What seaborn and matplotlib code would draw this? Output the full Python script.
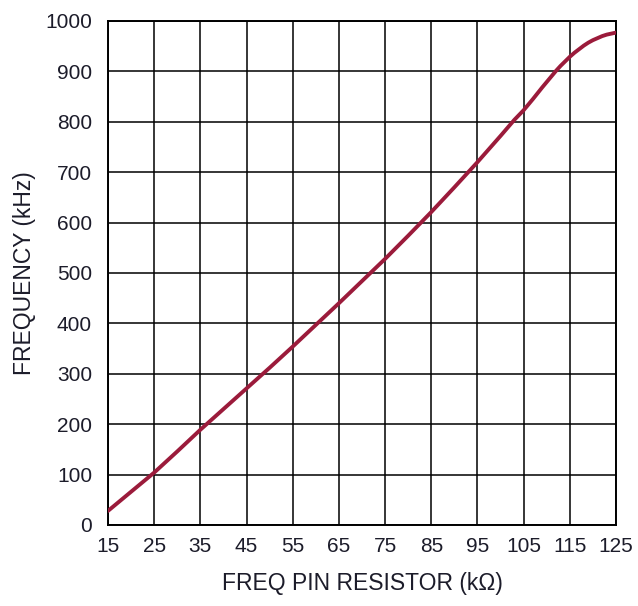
import pandas as pd
import seaborn as sns
import matplotlib.pyplot as plt

# curve (kOhm -> kHz)
resistor_kohm = [15, 20, 25, 30, 35, 40, 45, 50, 55, 60, 65, 70, 75, 80, 85, 90, 95,
                 100, 103, 105, 107, 109, 110, 111, 112, 113, 114, 115, 116, 117, 118, 119,
                 120, 121, 122, 123, 124, 125]
frequency_khz = [28, 66, 104, 146, 189, 230, 271, 312, 354, 397, 440, 484, 528, 574, 621, 670, 720,
                 772, 804, 823, 845, 868, 879, 890, 901, 911, 920, 929, 937, 944, 951, 957,
                 962, 966, 970, 973, 975, 977]

x_ticks = list(range(15, 126, 10))
y_ticks = list(range(0, 1001, 100))

df = pd.DataFrame({"R": resistor_kohm, "F": frequency_khz})

sns.set_style("white")
plt.rcParams['font.family'] = ['Liberation Sans', 'DejaVu Sans']

fig = plt.figure(figsize=(6.38, 6.06), dpi=100)
ax = fig.add_axes([108 / 638, 81 / 606, 508 / 638, 504 / 606])

sns.lineplot(data=df, x="R", y="F", ax=ax, color="#9b1b3b", linewidth=2.8, zorder=3)

ax.set_xlim(15, 125)
ax.set_ylim(0, 1000)
ax.set_xticks(x_ticks)
ax.set_yticks(y_ticks)
ax.grid(True, color="black", linewidth=1.1)
ax.set_axisbelow(True)
for s in ax.spines.values():
    s.set_color("black")
    s.set_linewidth(1.4)

txt = "#1c1c2a"
ax.tick_params(axis="x", length=2, width=1.1, color="black", pad=7, labelsize=15, labelcolor=txt)
ax.tick_params(axis="y", length=0, pad=11.5, labelsize=15, labelcolor=txt)

ax.set_xlabel("FREQ PIN RESISTOR (k\u03a9)", fontsize=16.5, color=txt)
ax.set_ylabel("FREQUENCY (kHz)", fontsize=16.5, color=txt)
ax.xaxis.set_label_coords(0.5, -0.093)
ax.yaxis.set_label_coords(-0.142, 0.5)

fig.savefig("out.png", dpi=100)
